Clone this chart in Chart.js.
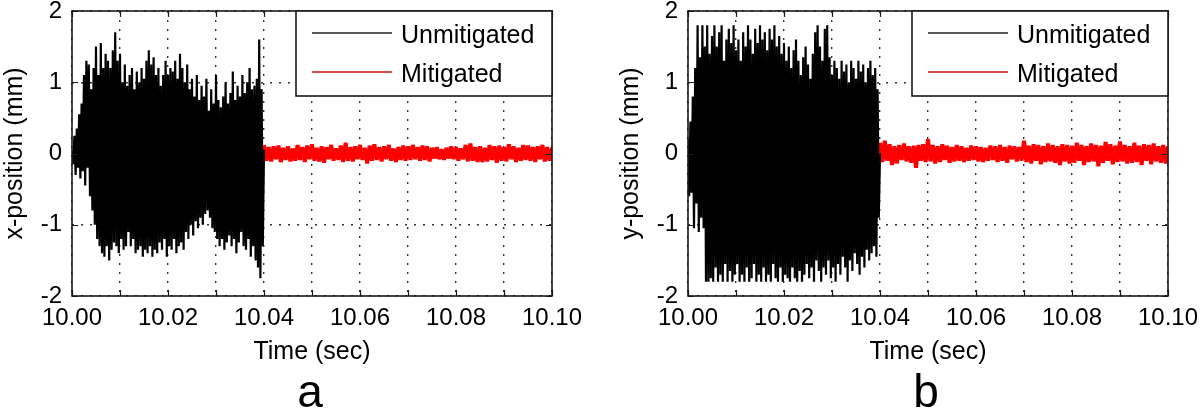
<!DOCTYPE html>
<html>
<head>
<meta charset="utf-8">
<script src="https://cdn.jsdelivr.net/npm/chart.js@4.4.1/dist/chart.umd.min.js"></script>
<style>
  body { margin: 0; background: #fff; }
  .panel { position: absolute; top: 0; width: 584px; height: 410px; }
</style>
</head>
<body>
<div class="panel" style="left:0"><canvas id="chart-a" width="584" height="410"></canvas></div>
<div class="panel" style="left:616px"><canvas id="chart-b" width="584" height="410"></canvas></div>
<script>
// sampling of the two recorded segments
const T_START = 10.00;
const T_SWITCH = 10.04;
const DT_RAW = 0.00025;
const DT_MIT = 0.0005;

const xTickLabels = ['10.00', '10.02', '10.04', '10.06', '10.08', '10.10'];
const yTickLabels = ['-2', '-1', '0', '1', '2'];
const seriesNames = ['Unmitigated', 'Mitigated'];

// panel a: x-position (mm)
const xUnmitigated = [
    0.05,-0.15, 0.25,-0.30, 0.35,-0.20, 0.55,-0.35, 0.70,-0.25,
    1.10,-0.45, 1.30,-0.20, 1.25,-0.60, 0.90,-0.80, 1.20,-1.00,
    1.50,-1.20, 1.10,-1.30, 1.55,-1.40, 1.20,-1.45, 1.40,-1.30,
    1.30,-1.50, 1.20,-1.35, 1.45,-1.25, 1.70,-1.30, 1.30,-1.40,
    1.40,-1.20, 1.00,-1.35, 1.25,-1.30, 0.95,-1.10, 1.10,-1.30,
    1.20,-1.20, 0.90,-1.40, 1.15,-1.35, 1.00,-1.30, 1.20,-1.45,
    1.05,-1.35, 1.30,-1.40, 1.45,-1.30, 1.25,-1.45, 1.35,-1.35,
    1.10,-1.40, 1.20,-1.25, 0.95,-1.35, 1.10,-1.20, 1.30,-1.45,
    1.10,-1.30, 1.20,-1.35, 1.15,-1.20, 1.30,-1.40, 1.05,-1.30,
    1.40,-1.25, 1.20,-1.35, 1.00,-1.10, 1.25,-1.20, 0.90,-1.00,
    1.05,-1.15, 0.80,-0.95, 1.10,-1.05, 0.75,-0.90, 0.95,-1.00,
    0.80,-0.85, 1.05,-0.80, 0.60,-0.90, 0.90,-1.05, 0.70,-1.10,
    1.10,-1.20, 0.75,-1.30, 0.65,-1.20, 0.80,-1.35, 1.00,-1.25,
    0.70,-1.15, 0.85,-1.30, 1.15,-1.20, 0.75,-1.40, 0.95,-1.25,
    0.80,-1.10, 1.10,-1.30, 0.85,-1.35, 1.00,-1.20, 1.20,-1.45,
    0.90,-1.30, 0.95,-1.50, 1.05,-1.60, 1.60,-1.75, 0.90,-1.30,
    0.05
];
const xMitigated = [
    0.12,-0.10, 0.09,-0.11, 0.10,-0.08, 0.11,-0.12, 0.08,-0.09,
    0.10,-0.11, 0.07,-0.10, 0.12,-0.09, 0.09,-0.12, 0.11,-0.08,
    0.13,-0.10, 0.08,-0.11, 0.10,-0.13, 0.09,-0.08, 0.12,-0.10,
    0.07,-0.09, 0.11,-0.12, 0.15,-0.10, 0.09,-0.11, 0.10,-0.08,
    0.12,-0.09, 0.08,-0.14, 0.11,-0.10, 0.13,-0.09, 0.09,-0.11,
    0.10,-0.08, 0.12,-0.10, 0.07,-0.12, 0.09,-0.09, 0.11,-0.10,
    0.10,-0.09, 0.12,-0.08, 0.09,-0.10, 0.11,-0.09, 0.10,-0.11,
    0.08,-0.07, 0.09,-0.08, 0.06,-0.09, 0.08,-0.07, 0.10,-0.08,
    0.09,-0.10, 0.07,-0.08, 0.12,-0.11, 0.14,-0.10, 0.09,-0.12,
    0.10,-0.12, 0.08,-0.11, 0.12,-0.09, 0.10,-0.13, 0.11,-0.10,
    0.09,-0.11, 0.13,-0.08, 0.10,-0.12, 0.08,-0.10, 0.12,-0.09,
    0.11,-0.10, 0.09,-0.12, 0.10,-0.08, 0.12,-0.11, 0.09,-0.10,
    0.08
];

// panel b: y-position (mm)
const yUnmitigated = [
    0.20,-0.60, 0.45,-0.55, 0.80,-1.05, 1.20,-0.70, 1.80,-1.10,
    1.35,-0.90, 1.80,-1.05, 1.50,-1.80, 1.80,-1.80, 1.40,-1.75,
    1.65,-1.80, 1.80,-1.60, 1.50,-1.80, 1.70,-1.70, 1.80,-1.80,
    1.30,-1.55, 1.60,-1.80, 1.75,-1.65, 1.55,-1.80, 1.80,-1.70,
    1.45,-1.55, 1.60,-1.80, 1.30,-1.70, 1.70,-1.80, 1.50,-1.60,
    1.80,-1.80, 1.60,-1.75, 1.40,-1.55, 1.75,-1.80, 1.55,-1.70,
    1.80,-1.80, 1.60,-1.60, 1.70,-1.80, 1.45,-1.70, 1.75,-1.80,
    1.60,-1.55, 1.80,-1.75, 1.50,-1.80, 1.65,-1.60, 1.40,-1.80,
    1.55,-1.70, 1.30,-1.75, 1.50,-1.80, 1.20,-1.60, 1.45,-1.75,
    1.60,-1.80, 1.30,-1.65, 1.10,-1.80, 1.35,-1.70, 1.50,-1.55,
    1.25,-1.75, 1.05,-1.60, 1.40,-1.80, 1.70,-1.50, 1.80,-1.65,
    1.50,-1.80, 1.30,-1.60, 1.75,-1.70, 1.80,-1.50, 1.35,-1.75,
    1.10,-1.60, 1.30,-1.80, 1.20,-1.55, 1.05,-1.70, 1.30,-1.45,
    1.15,-1.60, 1.25,-1.80, 1.00,-1.50, 1.30,-1.65, 1.20,-1.40,
    1.05,-1.55, 1.30,-1.70, 1.15,-1.45, 1.25,-1.60, 1.00,-1.35,
    1.20,-1.50, 1.30,-1.40, 1.10,-1.30, 1.20,-1.45, 0.90,-0.90,
    0.00
];
const yMitigated = [
    0.15,-0.12, 0.18,-0.10, 0.13,-0.16, 0.10,-0.14, 0.12,-0.09,
    0.14,-0.11, 0.10,-0.13, 0.11,-0.20, 0.12,-0.10, 0.13,-0.12,
    0.20,-0.11, 0.12,-0.14, 0.10,-0.12, 0.13,-0.09, 0.11,-0.13,
    0.09,-0.11, 0.12,-0.10, 0.10,-0.12, 0.08,-0.10, 0.11,-0.09,
    0.10,-0.11, 0.09,-0.12, 0.08,-0.10, 0.11,-0.09, 0.10,-0.12,
    0.12,-0.10, 0.09,-0.13, 0.11,-0.08, 0.10,-0.11, 0.09,-0.10,
    0.18,-0.12, 0.11,-0.14, 0.13,-0.10, 0.12,-0.15, 0.10,-0.12,
    0.14,-0.11, 0.12,-0.13, 0.10,-0.16, 0.13,-0.11, 0.12,-0.14,
    0.11,-0.13, 0.15,-0.10, 0.12,-0.16, 0.10,-0.12, 0.14,-0.11,
    0.12,-0.18, 0.11,-0.13, 0.16,-0.10, 0.13,-0.15, 0.11,-0.12,
    0.17,-0.11, 0.12,-0.14, 0.10,-0.13, 0.15,-0.12, 0.11,-0.16,
    0.13,-0.10, 0.12,-0.15, 0.14,-0.11, 0.10,-0.13, 0.12,-0.14,
    0.10
];

Chart.defaults.font.family = '"Liberation Sans", Arial, sans-serif';
Chart.defaults.color = '#000';

const toPoints = (values, t0, dt) => values.map((v, i) => ({ x: t0 + i * dt, y: v }));

// MATLAB-like frame, inward ticks, boxed legend and panel letter
const matlabFrame = {
    id: 'matlabFrame',
    afterDatasetsDraw(chart) {
        const { ctx, chartArea: a, scales: { x, y } } = chart;
        ctx.save();
        ctx.strokeStyle = '#1a1a1a';
        ctx.lineWidth = 1.2;
        ctx.beginPath();
        x.ticks.forEach(t => {
            const px = Math.round(x.getPixelForValue(t.value)) + 0.5;
            ctx.moveTo(px, a.bottom); ctx.lineTo(px, a.bottom - 6);
            ctx.moveTo(px, a.top); ctx.lineTo(px, a.top + 6);
        });
        y.ticks.forEach(t => {
            const py = Math.round(y.getPixelForValue(t.value)) + 0.5;
            ctx.moveTo(a.left, py); ctx.lineTo(a.left + 6, py);
            ctx.moveTo(a.right, py); ctx.lineTo(a.right - 6, py);
        });
        ctx.stroke();
        ctx.lineWidth = 1.6;
        ctx.strokeRect(a.left, a.top, a.right - a.left, a.bottom - a.top);
        ctx.restore();
    },
    afterDraw(chart, args, opts) {
        const { ctx, chartArea: a } = chart;
        const boxW = 256, boxH = 85;
        const bx = a.right - boxW, by = a.top;
        ctx.save();
        ctx.fillStyle = '#fff';
        ctx.fillRect(bx, by, boxW, boxH);
        ctx.strokeStyle = '#1a1a1a';
        ctx.lineWidth = 1.6;
        ctx.strokeRect(bx, by, boxW, boxH);

        ctx.font = '25px "Liberation Sans", Arial, sans-serif';
        ctx.textBaseline = 'alphabetic';
        ctx.textAlign = 'left';
        chart.data.datasets.forEach((ds, i) => {
            const ry = by + 22 + i * 39;
            ctx.strokeStyle = ds.legendColor;
            ctx.lineWidth = 1.6;
            ctx.beginPath();
            ctx.moveTo(bx + 16, ry);
            ctx.lineTo(bx + 96, ry);
            ctx.stroke();
            ctx.fillStyle = '#000';
            ctx.fillText(ds.label, bx + 105, ry + 10);
        });

        ctx.font = '46px "Liberation Sans", Arial, sans-serif';
        ctx.textAlign = 'center';
        ctx.fillText(opts.letter, 310, 407);
        ctx.restore();
    }
};

function makePanel(canvasId, yTitle, letter, rawValues, mitValues) {
    const ctx = document.getElementById(canvasId).getContext('2d');
    return new Chart(ctx, {
        type: 'line',
        data: {
            datasets: [
                {
                    label: seriesNames[0],
                    data: toPoints(rawValues, T_START, DT_RAW),
                    borderColor: '#000',
                    legendColor: '#222',
                    borderWidth: 2.2,
                    borderJoinStyle: 'bevel',
                    pointRadius: 0,
                    tension: 0
                },
                {
                    label: seriesNames[1],
                    data: toPoints(mitValues, T_SWITCH, DT_MIT),
                    borderColor: '#ff0000',
                    legendColor: '#c81818',
                    borderWidth: 4,
                    borderJoinStyle: 'bevel',
                    pointRadius: 0,
                    tension: 0
                }
            ]
        },
        options: {
            responsive: false,
            animation: false,
            events: [],
            layout: { padding: { top: 11, right: 32, left: 0, bottom: 0 } },
            plugins: {
                legend: { display: false },
                tooltip: { enabled: false },
                matlabFrame: { letter }
            },
            scales: {
                x: {
                    type: 'linear',
                    min: 10.0,
                    max: 10.1,
                    afterFit: (scale) => {
                        scale.height = 114;
                        scale.paddingLeft = 0;
                        scale.paddingRight = 0;
                    },
                    grid: { color: '#333', lineWidth: 1.4, drawTicks: false },
                    border: { display: false, dash: [2, 7] },
                    ticks: {
                        stepSize: 0.01,
                        autoSkip: false,
                        maxRotation: 0,
                        padding: 8,
                        font: { size: 24 },
                        callback: (value) => {
                            const s = value.toFixed(2);
                            return xTickLabels.includes(s) ? s : '';
                        }
                    },
                    title: {
                        display: true,
                        text: 'Time (sec)',
                        font: { size: 25 },
                        padding: { top: 0, bottom: 43 }
                    }
                },
                y: {
                    min: -2,
                    max: 2,
                    afterFit: (scale) => {
                        scale.width = 72;
                        scale.paddingTop = 0;
                        scale.paddingBottom = 0;
                    },
                    grid: { color: '#333', lineWidth: 1.4, drawTicks: false },
                    border: { display: false, dash: [2, 7] },
                    ticks: {
                        stepSize: 1,
                        padding: 10,
                        font: { size: 24 },
                        callback: (value) => yTickLabels.find(l => Number(l) === value) ?? ''
                    },
                    title: {
                        display: true,
                        text: yTitle,
                        font: { size: 25 },
                        padding: { top: 0, bottom: 0 }
                    }
                }
            }
        },
        plugins: [matlabFrame]
    });
}

makePanel('chart-a', 'x-position (mm)', 'a', xUnmitigated, xMitigated);
makePanel('chart-b', 'y-position (mm)', 'b', yUnmitigated, yMitigated);
</script>
</body>
</html>
